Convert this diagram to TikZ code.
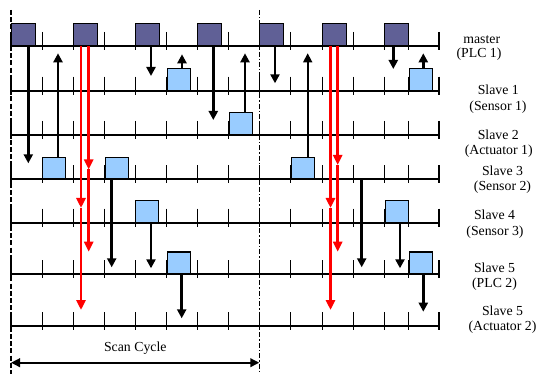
\documentclass[tikz,border=0pt]{standalone}
\usepackage{fontspec}
\setmainfont{Liberation Serif}
\usetikzlibrary{arrows.meta}
\definecolor{mfill}{RGB}{96,96,150}
\definecolor{sfill}{RGB}{153,204,255}
\tikzset{
  rowline/.style={line width=2.3pt},
  tickline/.style={line width=1.2pt},
  mbox/.style={draw=black, fill=mfill, line width=1.1pt, minimum width=23.5pt, minimum height=22pt, inner sep=0pt, anchor=south west},
  sbox/.style={draw=black, fill=sfill, line width=1.1pt, minimum width=23pt, minimum height=21.5pt, inner sep=0pt, anchor=south west},
  arr/.style={line width=2.7pt, -{Triangle[length=9pt,width=9pt]}},
  thinarr/.style={line width=1.6pt, -{Triangle[length=9pt,width=9pt]}},
  redarr/.style={red, line width=2.6pt, -{Triangle[length=10pt,width=9pt]}},
  lbl/.style={font=\fontsize{13.8}{15}\selectfont, anchor=base, inner sep=0pt},
}
\begin{document}
\begin{tikzpicture}[x=1pt,y=-1pt]
\useasboundingbox (0,0) rectangle (538,374);
% row lines and ticks
\foreach \yy in {46,90.7,135,179.3,222.7,274,326}{
  \draw[rowline] (11,\yy) -- (439,\yy);
  \foreach \xx in {11,42.3,73.3,104.3,135.3,166.3,197.3,228.3,259.3,290.7,322.3,353.3,384.3,408.8,439}{
    \draw[tickline] (\xx,\yy-14) -- (\xx,\yy+4);
  }
}
% master boxes
\node[mbox] (M1) at (11,46) {};
\node[mbox] (M2) at (73.3,46) {};
\node[mbox] (M3) at (135.3,46) {};
\node[mbox] (M4) at (197.3,46) {};
\node[mbox] (M5) at (259.3,46) {};
\node[mbox] (M6) at (322.3,46) {};
\node[mbox] (M7) at (384.3,46) {};
% slave boxes
\node[sbox] (S1a) at (166.7,90.7) {};
\node[sbox] (S1b) at (408.8,90.7) {};
\node[sbox] (S2a) at (229.3,135) {};
\node[sbox] (S3a) at (42.3,179.3) {};
\node[sbox] (S3b) at (104.5,179.3) {};
\node[sbox] (S3c) at (290.9,179.3) {};
\node[sbox] (S4a) at (135.3,222.7) {};
\node[sbox] (S4b) at (384.5,222.7) {};
\node[sbox] (S5a) at (166.7,274) {};
\node[sbox] (S5b) at (408.8,274) {};
% arrow tip coordinates
\coordinate (tA1) at (28.3,163.3);
\coordinate (tA2) at (58,53.3);
\coordinate (tA3) at (111.7,267.3);
\coordinate (tA4) at (151,76);
\coordinate (tA5) at (182,54.3);
\coordinate (tA6) at (213.3,120);
\coordinate (tA7) at (245,53.3);
\coordinate (tA8) at (151,268.3);
\coordinate (tA9) at (181.7,318.3);
\coordinate (tB1) at (275,83.3);
\coordinate (tB2) at (307.7,53.3);
\coordinate (sB3) at (361.7,179.3);
\coordinate (tB3) at (361.7,267.3);
\coordinate (tB4) at (393.3,69);
\coordinate (tB5) at (423.3,53.3);
\coordinate (tB6) at (400,268.3);
\coordinate (tB7) at (423.3,311.7);
% black arrows
\draw[arr] (M1.south -| tA1) -- (tA1);
\draw[arr] (S3a.north -| tA2) -- (tA2);
\draw[arr] (S3b.south -| tA3) -- (tA3);
\draw[arr] (M3.south -| tA4) -- (tA4);
\draw[arr] (S1a.north -| tA5) -- (tA5);
\draw[arr] (M4.south -| tA6) -- (tA6);
\draw[arr] (S2a.north -| tA7) -- (tA7);
\draw[arr] (S4a.south -| tA8) -- (tA8);
\draw[arr] (S5a.south -| tA9) -- (tA9);
\draw[arr] (M5.south -| tB1) -- (tB1);
\draw[thinarr] (S3c.north -| tB2) -- (tB2);
\draw[arr] (sB3) -- (tB3);
\draw[arr] (M7.south -| tB4) -- (tB4);
\draw[arr] (S1b.north -| tB5) -- (tB5);
\draw[arr] (S4b.south -| tB6) -- (tB6);
\draw[arr] (S5b.south -| tB7) -- (tB7);
% red arrows
\coordinate (r1a) at (81,208);
\coordinate (r1b) at (81,310);
\coordinate (r2a) at (88.7,169.5);
\coordinate (r2b) at (88.7,251.7);
\coordinate (r3a) at (330.5,208);
\coordinate (r3b) at (330.5,310);
\coordinate (r4a) at (337.7,165);
\coordinate (r4b) at (337.7,251.7);
\draw[redarr] (M2.south -| r1a) -- (r1a);
\draw[redarr] (r1a) -- (r1b);
\draw[redarr] (M2.south -| r2a) -- (r2a);
\draw[redarr] (r2a) -- (r2b);
\draw[redarr] (M6.south -| r3a) -- (r3a);
\draw[redarr] (r3a) -- (r3b);
\draw[redarr] (M6.south -| r4a) -- (r4a);
\draw[redarr] (r4a) -- (r4b);
% cycle boundaries
\coordinate (d1t) at (11,10);
\coordinate (d1b) at (11,374);
\coordinate (d2t) at (259.3,10);
\coordinate (d2b) at (259.3,374);
\draw[line width=2.6pt, dash pattern=on 5pt off 2.2pt] (d1t) -- (d1b);
\draw[line width=1.4pt, dash pattern=on 5pt off 2pt on 1.4pt off 2pt] (d2t) -- (d2b);
% scan cycle
\coordinate (sc1) at (11,362.7);
\coordinate (sc2) at (259.3,362.7);
\draw[line width=2.2pt, {Triangle[length=9pt,width=8.5pt]}-{Triangle[length=9pt,width=8.5pt]}] (sc1) -- (sc2);
\node[lbl] (scan) at (135.3,351.2) {Scan Cycle};
% labels
\node[lbl] (l0a) at (481.7,43.3) {master};
\node[lbl] (l0b) at (479,57.3) {(PLC 1)};
\node[lbl] (l1a) at (498.3,95) {Slave 1};
\node[lbl] (l1b) at (498,110.3) {(Sensor 1)};
\node[lbl] (l2a) at (498.3,139.3) {Slave 2};
\node[lbl] (l2b) at (498.7,154.5) {(Actuator 1)};
\node[lbl] (l3a) at (502.5,175.7) {Slave 3};
\node[lbl] (l3b) at (502.5,190.5) {(Sensor 2)};
\node[lbl] (l4a) at (494.5,219) {Slave 4};
\node[lbl] (l4b) at (495,235.5) {(Sensor 3)};
\node[lbl] (l5a) at (494.5,272.3) {Slave 5};
\node[lbl] (l5b) at (494.5,287) {(PLC 2)};
\node[lbl] (l6a) at (502.5,315.7) {Slave 5};
\node[lbl] (l6b) at (502.5,330.5) {(Actuator 2)};
\end{tikzpicture}
\end{document}
